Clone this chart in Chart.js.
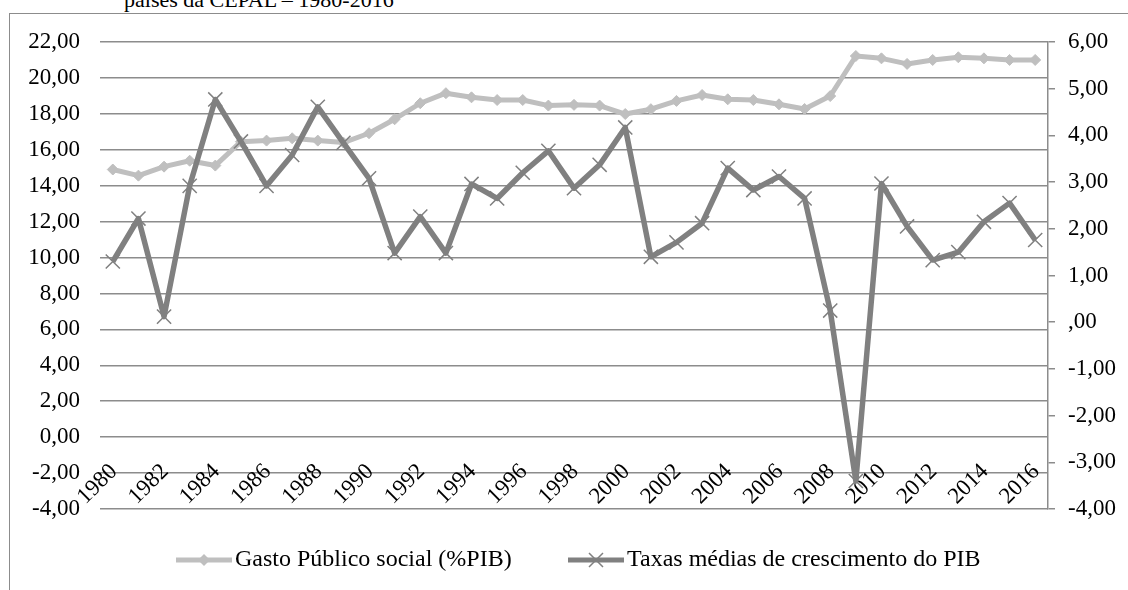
<!DOCTYPE html>
<html lang="pt-BR">
<head>
<meta charset="utf-8">
<title>Gasto Público social e PIB</title>
<script src="https://cdn.jsdelivr.net/npm/chart.js@4.4.1/dist/chart.umd.min.js"></script>
<style>
    html, body { margin: 0; padding: 0; background: #fff; overflow: hidden; }
    #moldura { position: absolute; left: 9px; top: 13px; width: 1400px; height: 800px; border: 1.5px solid #8c8c8c; }
    #titulo { position: absolute; left: 124px; top: -11px; font: 22px 'Liberation Serif', serif; line-height: 22px; white-space: nowrap; color: #000; }
    #area { position: absolute; left: 0; top: 0; width: 1128px; height: 590px; }
</style>
</head>
<body>
<div id="moldura"></div>
<div id="titulo">países da CEPAL – 1980-2016</div>
<div id="area"><canvas id="graficoGasto"></canvas></div>
<script>
const anos = ['1980', '1981', '1982', '1983', '1984', '1985', '1986', '1987', '1988', '1989',
    '1990', '1991', '1992', '1993', '1994', '1995', '1996', '1997', '1998', '1999',
    '2000', '2001', '2002', '2003', '2004', '2005', '2006', '2007', '2008', '2009',
    '2010', '2011', '2012', '2013', '2014', '2015', '2016']

// anos que aparecem no eixo x (de 2 em 2)
const anosRotulo = anos.filter((a, i) => i % 2 == 0)

// Gasto Público social (%PIB) - eixo esquerdo
const gastoSocial = [14.90, 14.56, 15.06, 15.39, 15.12, 16.45, 16.51, 16.64, 16.51, 16.40,
    16.92, 17.70, 18.59, 19.15, 18.92, 18.77, 18.77, 18.46, 18.50, 18.46,
    17.99, 18.26, 18.72, 19.05, 18.81, 18.77, 18.53, 18.27, 18.99, 21.22,
    21.09, 20.78, 21.00, 21.15, 21.09, 21.00, 21.00]

// Taxas médias de crescimento do PIB - eixo direito
const crescimentoPib = [1.30, 2.22, 0.12, 2.92, 4.77, 3.87, 2.92, 3.58, 4.61, 3.84,
    3.08, 1.48, 2.26, 1.48, 2.96, 2.65, 3.20, 3.67, 2.87, 3.37,
    4.17, 1.40, 1.71, 2.12, 3.30, 2.83, 3.12, 2.65, 0.25, -3.40,
    2.97, 2.05, 1.33, 1.50, 2.15, 2.55, 1.76]

const corGasto = '#bfbfbf'
const corPib = '#808080'
const corGrade = '#8c8c8c'
const fonte = '"Liberation Serif", "Times New Roman", serif'

function formatarNumero(v, eixoDireito) {
    let txt = Math.abs(v).toFixed(2).replace('.', ',')
    if (eixoDireito && v == 0) txt = ',00'
    return (v < 0 ? '-' : '') + txt
}

// rótulos dos anos inclinados, por cima da grade
const rotulosAnos = {
    id: 'rotulosAnos',
    beforeDatasetsDraw(chart) {
        const { ctx, scales } = chart
        ctx.save()
        ctx.font = '23px ' + fonte
        ctx.fillStyle = '#000'
        ctx.textAlign = 'right'
        ctx.textBaseline = 'middle'
        anosRotulo.forEach(ano => {
            const px = scales.x.getPixelForValue(anos.indexOf(ano))
            ctx.save()
            ctx.translate(px + 1, 468)
            ctx.rotate(-Math.PI / 4)
            ctx.fillText(ano, 0, 0)
            ctx.restore()
        })
        ctx.restore()
    }
}

// legenda no estilo do Excel (linha com marcador no meio)
const legendaManual = {
    id: 'legendaManual',
    afterDraw(chart) {
        const ctx = chart.ctx
        const y = 560
        const itens = [
            { x: 176, cor: corGasto, marcador: 'losango' },
            { x: 568, cor: corPib, marcador: 'x' }
        ]
        ctx.save()
        itens.forEach((item, i) => {
            const meio = item.x + 28
            ctx.strokeStyle = item.cor
            ctx.lineWidth = 5
            ctx.beginPath()
            ctx.moveTo(item.x, y)
            ctx.lineTo(item.x + 56, y)
            ctx.stroke()
            if (item.marcador == 'losango') {
                ctx.fillStyle = item.cor
                ctx.beginPath()
                ctx.moveTo(meio, y - 6)
                ctx.lineTo(meio + 6, y)
                ctx.lineTo(meio, y + 6)
                ctx.lineTo(meio - 6, y)
                ctx.closePath()
                ctx.fill()
            } else {
                ctx.lineWidth = 1.5
                ctx.beginPath()
                ctx.moveTo(meio - 7, y - 7)
                ctx.lineTo(meio + 7, y + 7)
                ctx.moveTo(meio + 7, y - 7)
                ctx.lineTo(meio - 7, y + 7)
                ctx.stroke()
            }
            ctx.font = '24px ' + fonte
            ctx.fillStyle = '#000'
            ctx.textAlign = 'left'
            ctx.textBaseline = 'middle'
            ctx.fillText(chart.data.datasets[i].label, item.x + 59, y)
        })
        ctx.restore()
    }
}

document.addEventListener('DOMContentLoaded', () => {
const grafico = document.getElementById('graficoGasto')
new Chart(grafico, {
    type: 'line',
    data: {
        labels: anos,
        datasets: [
            {
                label: 'Gasto Público social (%PIB)',
                data: gastoSocial,
                yAxisID: 'y',
                borderColor: corGasto,
                backgroundColor: corGasto,
                borderWidth: 5,
                borderJoinStyle: 'round',
                tension: 0,
                pointStyle: 'rectRot',
                pointRadius: 5.5,
                pointBorderWidth: 1,
                pointBackgroundColor: corGasto,
                pointBorderColor: corGasto,
                order: 2
            },
            {
                label: 'Taxas médias de crescimento do PIB',
                data: crescimentoPib,
                yAxisID: 'y2',
                borderColor: corPib,
                backgroundColor: corPib,
                borderWidth: 5.5,
                borderJoinStyle: 'round',
                tension: 0,
                pointStyle: 'crossRot',
                pointRadius: 10,
                pointBorderWidth: 1.5,
                pointBorderColor: corPib,
                order: 1
            }
        ]
    },
    options: {
        responsive: true,
        maintainAspectRatio: false,
        animation: false,
        layout: {
            padding: { top: 42, bottom: 81, left: 0, right: 0 }
        },
        plugins: {
            legend: { display: false },
            tooltip: { enabled: false }
        },
        scales: {
            x: {
                display: false,
                offset: true
            },
            y: {
                position: 'left',
                min: -4,
                max: 22,
                afterFit(scale) { scale.width = 100 },
                ticks: {
                    stepSize: 2,
                    padding: 20,
                    color: '#000',
                    font: { family: fonte, size: 23 },
                    callback: v => formatarNumero(v, false)
                },
                grid: {
                    color: corGrade,
                    lineWidth: 1.5,
                    drawTicks: false
                },
                border: { display: false }
            },
            y2: {
                position: 'right',
                min: -4,
                max: 6,
                afterFit(scale) { scale.width = 80 },
                ticks: {
                    stepSize: 1,
                    padding: 13,
                    color: '#000',
                    font: { family: fonte, size: 23 },
                    callback: v => formatarNumero(v, true)
                },
                grid: {
                    drawOnChartArea: false,
                    drawTicks: true,
                    tickLength: 7,
                    color: corGrade,
                    lineWidth: 1.5
                },
                border: { display: true, color: corGrade, width: 1.5 }
            }
        }
    },
    plugins: [rotulosAnos, legendaManual]
})
})
</script>
</body>
</html>
